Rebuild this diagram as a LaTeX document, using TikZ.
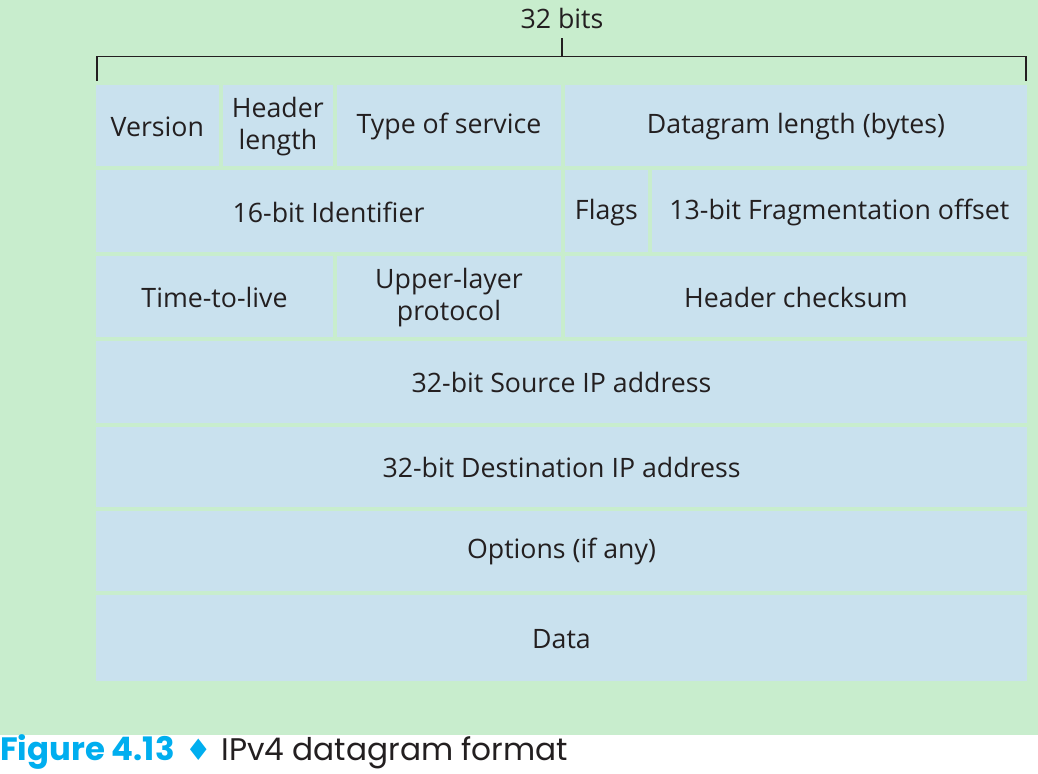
\documentclass[tikz,border=0pt]{standalone}
\usepackage{fontspec}
\setmainfont{Open Sans}
\newfontfamily\capfont{Poppins}
\newfontfamily\symfont{DejaVu Sans}
\definecolor{bggreen}{RGB}{200,237,205}
\definecolor{cellblue}{RGB}{201,225,238}
\definecolor{capcyan}{RGB}{0,174,239}
\definecolor{inkdark}{RGB}{35,31,32}
\begin{document}
\begin{tikzpicture}[x=0.025cm,y=-0.025cm,
  every node/.style={font=\fontsize{19}{22.5}\selectfont,text=inkdark,align=center,inner sep=0pt}]
  \useasboundingbox (0,0) rectangle (1038,774);
  \fill[white] (0,0) rectangle (1038,774);
  \fill[bggreen] (0,0) rectangle (1038,735);

  % Width bracket over the header
  \node (bits) at (562,18) {32 bits};
  \coordinate (mid) at (562,56.7);
  \draw[line width=0.9pt,inkdark] (97,80.7) -- (97,56.7) -- (1026,56.7) -- (1026,80.7);
  \draw[line width=0.9pt,inkdark] (mid) -- ++(0,-18.7);

  % Header fields: name/left/right/top/bottom/text
  \foreach \nm/\xa/\xb/\ya/\yb/\txt in {
      version/96/218.7/85/166/Version,
      hdrlen/222.7/333/85/166/{Header\\length},
      tos/337/561/85/166/Type of service,
      dglen/565/1027/85/166/Datagram length (bytes),
      ident/96/561/170/252.5/16-bit Identifier,
      flags/565/647.7/170/252.5/Flags,
      fragoff/651.7/1027/170/252.5/13-bit Fragmentation offset,
      ttl/96/333/256.5/337/Time-to-live,
      proto/337/561/256.5/337/{Upper-layer\\protocol},
      cksum/565/1027/256.5/337/Header checksum,
      srcip/96/1027/341/422.5/32-bit Source IP address,
      dstip/96/1027/426.5/506.5/32-bit Destination IP address,
      opts/96/1027/510.5/590.5/Options (if any),
      data/96/1027/594.5/681/Data}{
    \fill[cellblue] (\xa,\ya) rectangle (\xb,\yb);
    \node (\nm) at ({(\xa+\xb)/2},{(\ya+\yb)/2+1}) {\txt};
  }

  % Caption
  \node[anchor=base west,font=\capfont\fontsize{22.2}{27}\selectfont] (caption) at (0,760)
    {\textcolor{capcyan}{\fontsize{23}{27}\selectfont\bfseries Figure 4.13}\hspace{0.35em}\textcolor{capcyan}{\symfont\fontsize{21}{24}\selectfont ♦}\hspace{0.3em}IPv4 datagram format};
\end{tikzpicture}
\end{document}
